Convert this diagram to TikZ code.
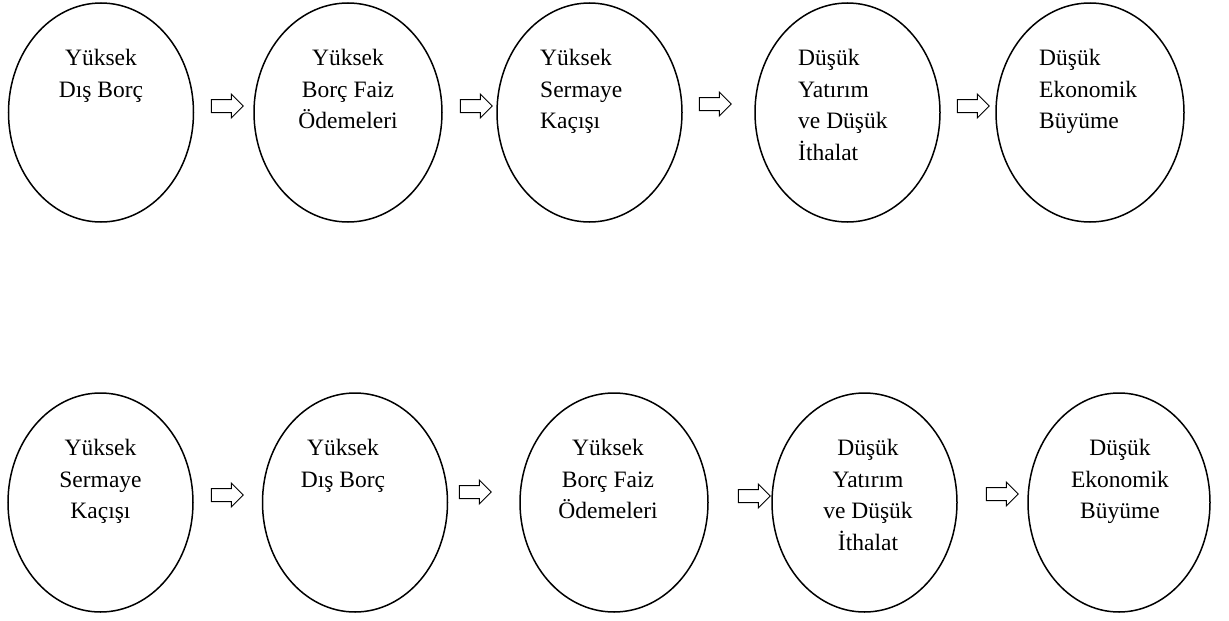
\documentclass[tikz,border=0pt]{standalone}
\usepackage{fontspec}
\setmainfont{Liberation Serif}
\usetikzlibrary{shapes.geometric,shapes.arrows}
\tikzstyle{oval} = [draw, ellipse, line width=1.5pt, minimum width=185pt, minimum height=219pt, inner sep=0pt]
\tikzstyle{lbl} = [font=\fontsize{23.5}{31.7}\selectfont, inner sep=0pt, anchor=north, align=center]
\tikzstyle{lblleft} = [lbl, anchor=north west, align=left]
\tikzstyle{then} = [draw, single arrow, line width=1pt, single arrow head extend=5.5pt, single arrow head indent=0pt, minimum height=32pt, inner xsep=0pt, inner ysep=6pt]

\begin{document}
\begin{tikzpicture}[x=1pt,y=-1pt]
	\useasboundingbox (0,0) rectangle (1229,621);
	% upper chain
	\node[oval] (u1) at (101,112.5) {};
	\node[oval, minimum width=188pt] (u2) at (348,112.5) {};
	\node[oval] (u3) at (589.5,112.5) {};
	\node[oval] (u4) at (847.5,112.5) {};
	\node[oval, minimum width=188pt] (u5) at (1090,112.5) {};
	\node[lbl] (u1-text) at (101,49) {Yüksek\\Dış Borç};
	\node[lbl] (u2-text) at (348,49) {Yüksek\\Borç Faiz\\Ödemeleri};
	\node[lblleft] (u3-text) at (540,49) {Yüksek\\Sermaye\\Kaçışı};
	\node[lblleft] (u4-text) at (798,49) {Düşük\\Yatırım\\ve Düşük\\İthalat};
	\node[lblleft] (u5-text) at (1039,49) {Düşük\\Ekonomik\\Büyüme};
	\node[then] (ua1) at (224,106) {};
	\node[then] (ua2) at (473,106) {};
	\node[then] (ua3) at (712,104) {};
	\node[then] (ua4) at (970,106) {};
	% lower chain
	\node[oval] (l1) at (100.5,502.5) {};
	\node[oval] (l2) at (355,502.5) {};
	\node[oval, minimum width=188pt] (l3) at (614,502.5) {};
	\node[oval] (l4) at (864.5,502.5) {};
	\node[oval, minimum width=182pt] (l5) at (1119,502.5) {};
	\node[lbl] (l1-text) at (100.5,439) {Yüksek\\Sermaye\\Kaçışı};
	\node[lbl] (l2-text) at (343,439) {Yüksek\\Dış Borç};
	\node[lbl] (l3-text) at (608,439) {Yüksek\\Borç Faiz\\Ödemeleri};
	\node[lbl] (l4-text) at (868,439) {Düşük\\Yatırım\\ve Düşük\\İthalat};
	\node[lbl] (l5-text) at (1120,439) {Düşük\\Ekonomik\\Büyüme};
	\node[then] (la1) at (224,495) {};
	\node[then] (la2) at (472,492) {};
	\node[then] (la3) at (751,496) {};
	\node[then] (la4) at (999,494) {};
\end{tikzpicture}
\end{document}
